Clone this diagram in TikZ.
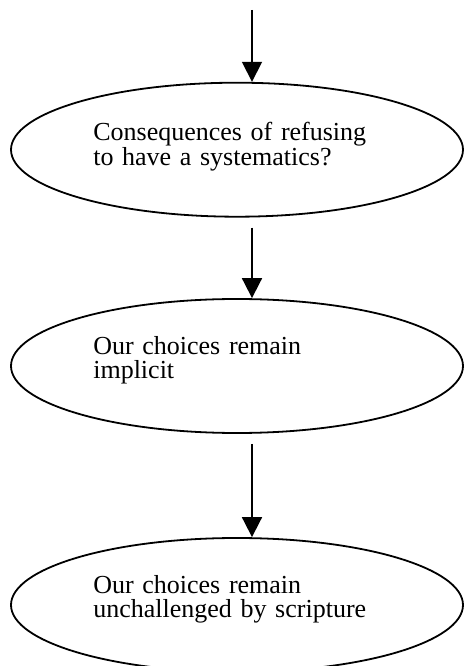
\documentclass[tikz,border=0pt]{standalone}
\usepackage{fontspec}
\setmainfont{Liberation Serif}
\usetikzlibrary{arrows.meta,shapes.geometric}

\begin{document}
\begin{tikzpicture}[
        x=0.5pt, y=0.5pt,
        bubble/.style={draw=black, line width=0.9pt, ellipse,
            minimum width=226pt, minimum height=67pt, inner sep=0pt,
            text width=143.7pt, align=left, text height=10pt, text depth=22pt,
            font=\fontsize{13pt}{12.5pt}\selectfont},
        flow/.style={line width=0.9pt, -{Triangle[length=10pt,width=10pt]}},
    ]
    \useasboundingbox (0,0) rectangle (464,666);
    % ellipses
    \node[bubble, text depth=19pt] (conseq) at (237,516.3) {Consequences of refusing\\to have a systematics?};
    \node[bubble] (implicit) at (237,300) {Our choices remain\\implicit};
    \node[bubble] (unchall) at (237,61) {Our choices remain\\unchallenged by scripture};

    % arrows
    \coordinate (start) at (252,656);
    \draw[flow] (start) -- (start |- conseq.north);
    \draw[flow] ([shift={(15,-10)}]conseq.south) -- ([shift={(15,0)}]implicit.north);
    \draw[flow] ([shift={(15,-10)}]implicit.south) -- ([shift={(15,0)}]unchall.north);
\end{tikzpicture}
\end{document}
